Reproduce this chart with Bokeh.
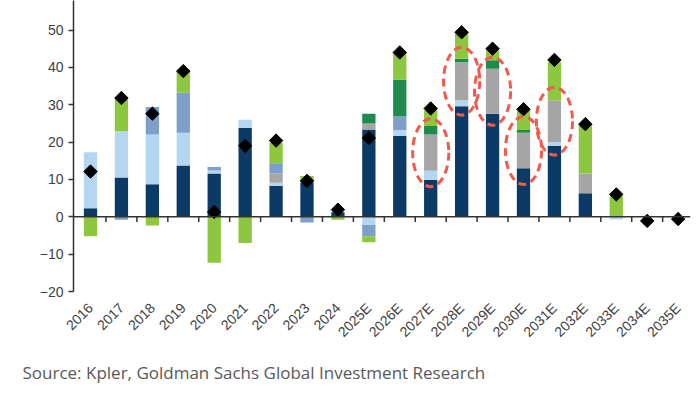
import numpy as np
from math import pi
from bokeh.plotting import figure
from bokeh.models import FixedTicker, Range1d, Span, Title
from bokeh.embed import file_html
from bokeh.resources import INLINE

years = ["2016", "2017", "2018", "2019", "2020", "2021", "2022", "2023", "2024",
         "2025E", "2026E", "2027E", "2028E", "2029E", "2030E", "2031E", "2032E",
         "2033E", "2034E", "2035E"]
navy =       [2.3, 10.5, 8.7, 13.7, 11.6, 23.8, 8.3, 9.1, 1.2, 23.4, 21.6, 9.9, 29.6, 27.6, 13.0, 19.0, 6.3, 0, 0, 0]
light_blue = [15.0, 12.4, 13.3, 8.8, 0.8, 2.2, 0.8, 0, 0, -2.2, 1.6, 2.4, 1.6, 0, 0, 1.0, 0, -0.7, 0, 0]
gray =       [0, 0, 0, 0, 0, 0, 2.5, 0, 0, 1.6, 0, 9.7, 10.2, 12.0, 9.5, 11.2, 5.3, 0, 0, 0]
steel =      [0, -0.8, 7.4, 10.7, 0.9, 0, 2.7, -1.5, 0, -3.0, 3.7, 0, 0, 0, 0, 0, 0, 0, 0, 0]
dark_green = [0, 0, 0, 0, 0, 0, 0, 0, 0, 2.6, 9.8, 2.3, 0.9, 2.3, 0.7, 0, 0, 0, 0, 0]
lime =       [-5.2, 8.6, -2.3, 5.7, -12.3, -7.0, 5.5, 1.8, -0.8, -1.6, 7.4, 4.2, 7.1, 2.6, 5.3, 10.2, 12.9, 5.5, 0, 0]
total =      [12.1, 31.8, 27.6, 39.0, 1.3, 19.0, 20.4, 9.6, 1.9, 21.1, 44.0, 29.0, 49.4, 45.0, 28.8, 42.0, 24.8, 6.0, -1.1, -0.6]
circled = ["2027E", "2028E", "2029E", "2030E", "2031E"]
y_ticks = [-20, -10, 0, 10, 20, 30, 40, 50]
source = "Source: Kpler, Goldman Sachs Global Investment Research"

series = [navy, light_blue, gray, steel, dark_green, lime]
colors = ["#0b3a66", "#b4d6f0", "#a6a6a6", "#7d9fca", "#1f8a4d", "#8dc63f"]

n = len(years)
x = np.arange(n)

p = figure(width=700, height=394, x_range=Range1d(-0.55, 19.4), y_range=Range1d(-20, 57.9),
           output_backend="svg", toolbar_location=None,
           min_border_left=73, min_border_right=10, min_border_top=0, min_border_bottom=102)
p.outline_line_color = None
p.grid.visible = False
p.background_fill_color = "white"

pos_base = np.zeros(n)
neg_base = np.zeros(n)
gray_bottom = None
bw = 0.43
for vals, c in zip(series, colors):
    v = np.array(vals, dtype=float)
    pos = np.where(v > 0, v, 0.0)
    neg = np.where(v < 0, v, 0.0)
    if vals is gray:
        gray_bottom = pos_base.copy()
    p.vbar(x=x, width=bw, bottom=pos_base.copy(), top=pos_base + pos, fill_color=c, line_color=None)
    p.vbar(x=x, width=bw, bottom=neg_base.copy(), top=neg_base + neg, fill_color=c, line_color=None)
    pos_base = pos_base + pos
    neg_base = neg_base + neg

# zero line and category boundary ticks
p.add_layout(Span(location=0, dimension="width", line_color="#333333", line_width=1.5))
bounds = x[:-1] + 0.5
p.segment(x0=bounds, y0=np.zeros(len(bounds)), x1=bounds, y1=np.full(len(bounds), -1.4),
          line_color="#333333", line_width=1.5)

# totals
p.scatter(x=x, y=total, marker="square", angle=pi / 4, size=9.5, fill_color="black", line_color="black")

# red dashed ellipses around the gray segments
ci = np.array([years.index(c) for c in circled])
g = np.array(gray, dtype=float)
cy = gray_bottom[ci] + g[ci] / 2
p.ellipse(x=ci, y=cy, width=1.17, height=18.2, fill_color=None, line_color="#f25a4b",
          line_width=3, line_dash="8 5")

# axes
p.yaxis.ticker = FixedTicker(ticks=y_ticks)
p.yaxis.major_label_text_font_size = "14px"
p.yaxis.major_label_text_font = "Liberation Sans"
p.yaxis.major_label_text_color = "#404040"
p.yaxis.axis_line_color = "#333333"
p.yaxis.axis_line_width = 1.5
p.yaxis.major_tick_line_color = "#333333"
p.yaxis.major_tick_line_width = 1.5
p.yaxis.major_tick_out = 5
p.yaxis.major_tick_in = 0
p.yaxis.minor_tick_line_color = None
p.yaxis.major_label_standoff = 5

p.xaxis.ticker = FixedTicker(ticks=list(range(n)))
p.xaxis.major_label_overrides = {i: yv for i, yv in enumerate(years)}
p.xaxis.major_label_orientation = pi / 4
p.xaxis.axis_line_color = None
p.xaxis.major_tick_line_color = None
p.xaxis.minor_tick_line_color = None
p.xaxis.major_label_text_font_size = "14px"
p.xaxis.major_label_text_font = "Liberation Sans"
p.xaxis.major_label_text_color = "#404040"
p.xaxis.major_label_standoff = 8

p.add_layout(Title(text=source, align="left", offset=-51, text_font_size="17px",
                   text_font="Open Sans", text_font_style="normal", text_color="#595959",
                   standoff=21), "below")

open("out.html", "w").write(file_html(p, INLINE))
